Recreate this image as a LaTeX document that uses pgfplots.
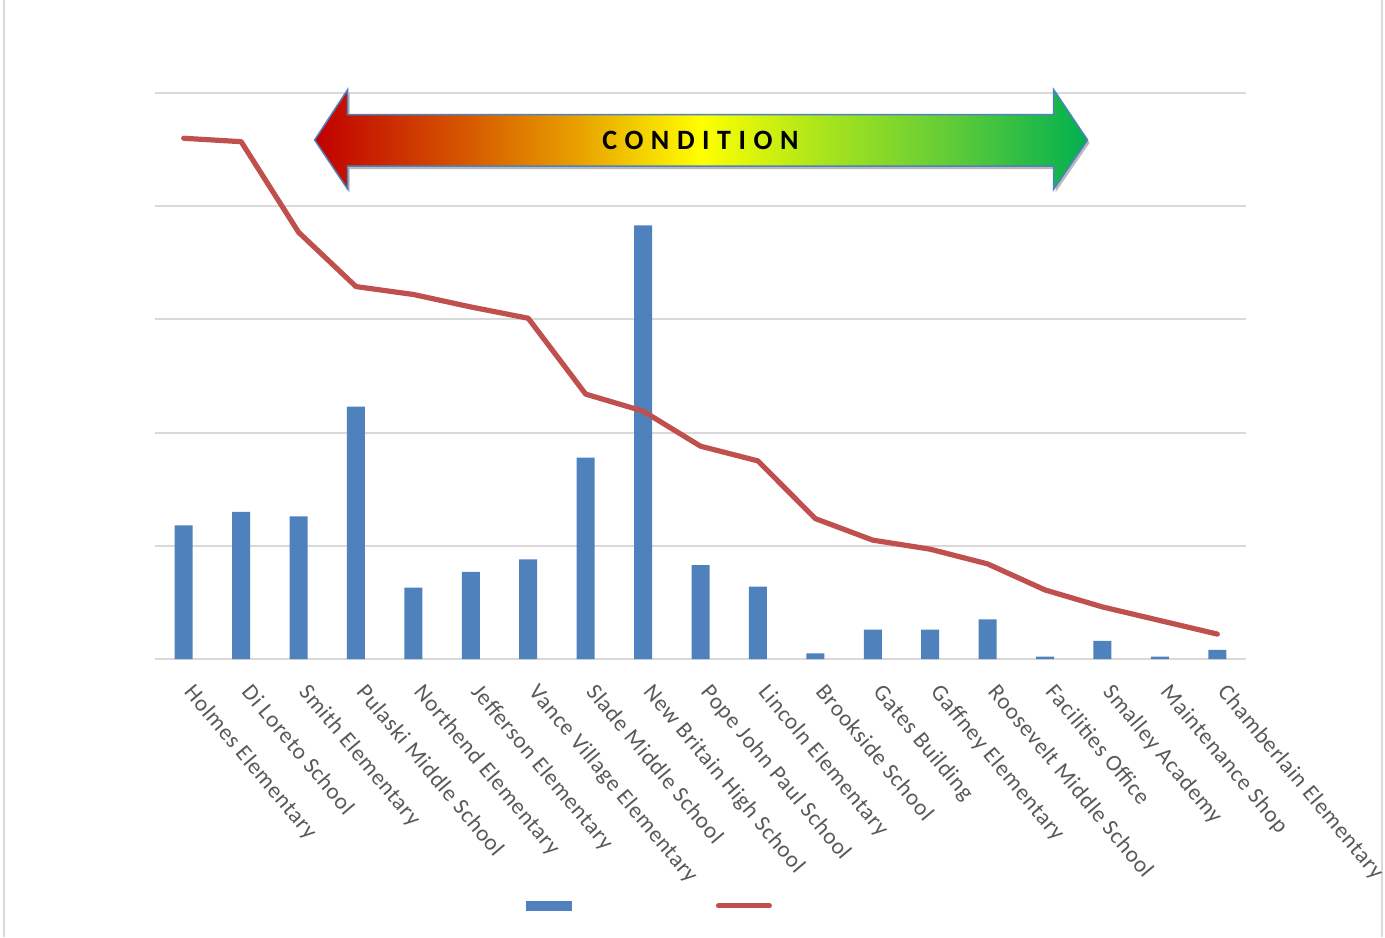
\documentclass[border=0pt]{standalone}
\usepackage{fontspec}
\setmainfont{Carlito}
\newfontfamily\condfont[LetterSpace=27]{Carlito}
\newfontfamily\labfont[LetterSpace=3]{Carlito}
\usepackage{pgfplots}
\usepackage{pgfplotstable}
\pgfplotsset{compat=1.18}
\definecolor{barblue}{HTML}{4F81BD}
\definecolor{linered}{HTML}{C0504D}
\definecolor{gridgray}{HTML}{D9D9D9}
\definecolor{txtgray}{HTML}{595959}
\definecolor{g0}{HTML}{C00000}
\definecolor{g1}{HTML}{D45000}
\definecolor{g2}{HTML}{E8A000}
\definecolor{g3}{HTML}{FFFF00}
\definecolor{g4}{HTML}{A8E41C}
\definecolor{g5}{HTML}{62CC38}
\definecolor{g6}{HTML}{00B050}
\pgfdeclarehorizontalshading{cond}{100bp}{color(0bp)=(g0); color(25bp)=(g0); color(34bp)=(g1); color(42bp)=(g2); color(50bp)=(g3); color(58bp)=(g4); color(66bp)=(g5); color(75bp)=(g6); color(100bp)=(g6)}

\pgfplotstableread{
x bar line
0 1.18 4.60
1 1.30 4.57
2 1.26 3.77
3 2.23 3.29
4 0.63 3.22
5 0.77 3.11
6 0.88 3.01
7 1.78 2.34
8 3.83 2.19
9 0.83 1.88
10 0.64 1.75
11 0.05 1.24
12 0.26 1.05
13 0.26 0.97
14 0.35 0.84
15 0.02 0.61
16 0.16 0.46
17 0.02 0.34
18 0.08 0.22
}\datatable

\begin{document}
\begin{tikzpicture}
\path[use as bounding box] (0,0) rectangle (692.5pt,468.5pt);
\draw[gridgray, line width=1pt] (2pt,0) -- (2pt,468.5pt);
\draw[gridgray, line width=1pt] (691pt,0) -- (691pt,468.5pt);
\begin{axis}[
  at={(77.5pt,139pt)}, anchor=south west,
  scale only axis, width=545.5pt, height=283pt,
  xmin=-0.5, xmax=18.5, ymin=0, ymax=5,
  clip=false,
  axis lines*=left,
  y axis line style={draw=none},
  x axis line style={draw=gridgray, line width=1.2pt, -},
  ytick={1,2,3,4,5}, yticklabels={},
  ymajorgrids, grid style={gridgray, line width=1pt},
  major tick length=0pt,
  xtick=data,
  xticklabels={Holmes Elementary, Di Loreto School, Smith Elementary, Pulaski Middle School, Northend Elementary, Jefferson Elementary, Vance Village Elementary, Slade Middle School, New Britain High School, Pope John Paul School, Lincoln Elementary, Brookside School, Gates Building, Gaffney Elementary, Roosevelt Middle School, Facilities Office, Smalley Academy, Maintenance Shop, Chamberlain Elementary},
  xticklabel style={rotate=-50, anchor=north west, inner sep=1pt, font=\labfont\fontsize{11.5}{13}\selectfont, text=txtgray, xshift=11.6pt, yshift=-1.8pt},
  legend columns=2,
  legend style={at={(0.34,-0.436)}, anchor=west, draw=none, fill=none, inner sep=0pt, outer sep=0pt, nodes={inner sep=0pt}, column sep=0pt},
]
\addplot[ybar, bar width=9pt, fill=barblue, draw=none,
  legend image code/.code={\fill[barblue] (0pt,-2.5pt) rectangle (23pt,2.5pt);}]
  table[x=x, y=bar] {\datatable};
\addlegendentry{\rule{72pt}{0pt}}
\addplot[linered, line width=2.6pt, line join=round, line cap=round, mark=none,
  legend image code/.code={\draw[linered, line width=2.5pt, line cap=round] (0pt,0pt) -- (25.5pt,0pt);}]
  table[x=x, y=line] {\datatable};
\addlegendentry{\mbox{}}
% condition arrow
\fill[black!45, opacity=0.6, shift={(1pt,-1.5pt)}] (axis cs:2.28,4.585) -- (axis cs:2.855,5.03) -- (axis cs:2.855,4.81) -- (axis cs:15.15,4.81) -- (axis cs:15.15,5.03) -- (axis cs:15.74,4.585) -- (axis cs:15.15,4.15) -- (axis cs:15.15,4.355) -- (axis cs:2.855,4.355) -- (axis cs:2.855,4.15) -- cycle;
\path[shading=cond, shading angle=0, draw=barblue, line width=0.75pt] (axis cs:2.28,4.585) -- (axis cs:2.855,5.03) -- (axis cs:2.855,4.81) -- (axis cs:15.15,4.81) -- (axis cs:15.15,5.03) -- (axis cs:15.74,4.585) -- (axis cs:15.15,4.15) -- (axis cs:15.15,4.355) -- (axis cs:2.855,4.355) -- (axis cs:2.855,4.15) -- cycle;
\node at (axis cs:9.0,4.585) {\condfont\bfseries\fontsize{14}{16}\selectfont CONDITION};
\end{axis}
\end{tikzpicture}
\end{document}
